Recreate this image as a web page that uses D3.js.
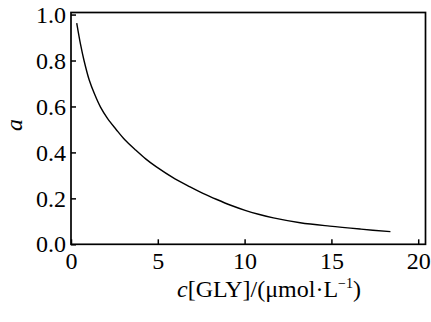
<!DOCTYPE html>
<html>
<head>
<meta charset="utf-8">
<script src="https://cdn.jsdelivr.net/npm/d3@7"></script>
<style>
  body { margin: 0; background: #fff; }
</style>
</head>
<body>
<div id="chart"></div>
<script>
// valeurs
const concGly = [0.33, 0.55, 0.75, 1.05, 1.35, 1.7, 2.1, 2.6, 3.1, 3.7, 4.3, 4.9, 5.99, 6.86, 7.6, 8.4, 9.2, 10.03, 10.8, 11.66, 13.2, 14.9, 16.7, 18.4];
const alpha   = [0.963, 0.87, 0.80, 0.715, 0.655, 0.597, 0.548, 0.500, 0.455, 0.412, 0.372, 0.338, 0.285, 0.250, 0.222, 0.195, 0.170, 0.148, 0.131, 0.115, 0.094, 0.079, 0.066, 0.055];
const xTicks = [0, 5, 10, 15, 20];
const yTicks = [0, 0.2, 0.4, 0.6, 0.8, 1.0];

const data = concGly.map((c, i) => ({ x: c, y: alpha[i] }));

const FONT = '"Times New Roman", "Liberation Serif", serif';
const FS = 24;
const W = 431, H = 322;
const svg = d3.select("#chart").append("svg")
  .attr("width", W).attr("height", H)
  .style("font-family", FONT);

// echelles
const xScale = d3.scaleLinear().domain([0, 20.42]).range([71, 425.5]);
const yScale = d3.scaleLinear().domain([0, 1.009]).range([244.3, 12.5]);

// axe x
const gx = svg.append("g")
  .attr("transform", `translate(0,${yScale(0)})`)
  .call(d3.axisBottom(xScale).tickValues(xTicks).tickSizeInner(-5).tickSizeOuter(0).tickPadding(8));
gx.select(".domain").remove();
gx.selectAll("line").attr("stroke", "#000").attr("stroke-width", 1.5);
gx.selectAll("text").attr("fill", "#000").style("font-family", FONT).style("font-size", FS + "px");

// axe y
const gy = svg.append("g")
  .attr("transform", `translate(${xScale(0)},0)`)
  .call(d3.axisLeft(yScale).tickValues(yTicks).tickFormat(d3.format(".1f")).tickSizeInner(-5).tickSizeOuter(0).tickPadding(5));
gy.select(".domain").remove();
gy.selectAll("line").attr("stroke", "#000").attr("stroke-width", 1.5);
gy.selectAll("text").attr("fill", "#000").style("font-family", FONT).style("font-size", FS + "px");

// cadre
svg.append("rect")
  .attr("x", xScale(0))
  .attr("y", yScale(1.009))
  .attr("width", xScale(20.42) - xScale(0))
  .attr("height", yScale(0) - yScale(1.009))
  .attr("fill", "none")
  .attr("stroke", "#000")
  .attr("stroke-width", 1.7);

// courbe
const line = d3.line()
  .x(d => xScale(d.x))
  .y(d => yScale(d.y))
  .curve(d3.curveCatmullRom.alpha(0.5));

svg.append("path")
  .datum(data)
  .attr("d", line)
  .attr("fill", "none")
  .attr("stroke", "#000")
  .attr("stroke-width", 1.4);

// titre axe x
const xt = svg.append("text")
  .attr("x", 269)
  .attr("y", 297)
  .attr("text-anchor", "middle")
  .style("font-family", FONT)
  .style("font-size", FS + "px");
xt.append("tspan").style("font-style", "italic").text("c");
xt.append("tspan").text("[GLY]/(\u03bcmol\u00b7L");
xt.append("tspan").style("font-size", "14px").attr("dy", -9).text("\u22121");
xt.append("tspan").attr("dy", 9).text(")");

// titre axe y
svg.append("text")
  .attr("transform", "translate(22,125) rotate(-90)")
  .attr("text-anchor", "middle")
  .style("font-family", FONT)
  .style("font-size", FS + "px")
  .style("font-style", "italic")
  .text("a");
</script>
</body>
</html>
